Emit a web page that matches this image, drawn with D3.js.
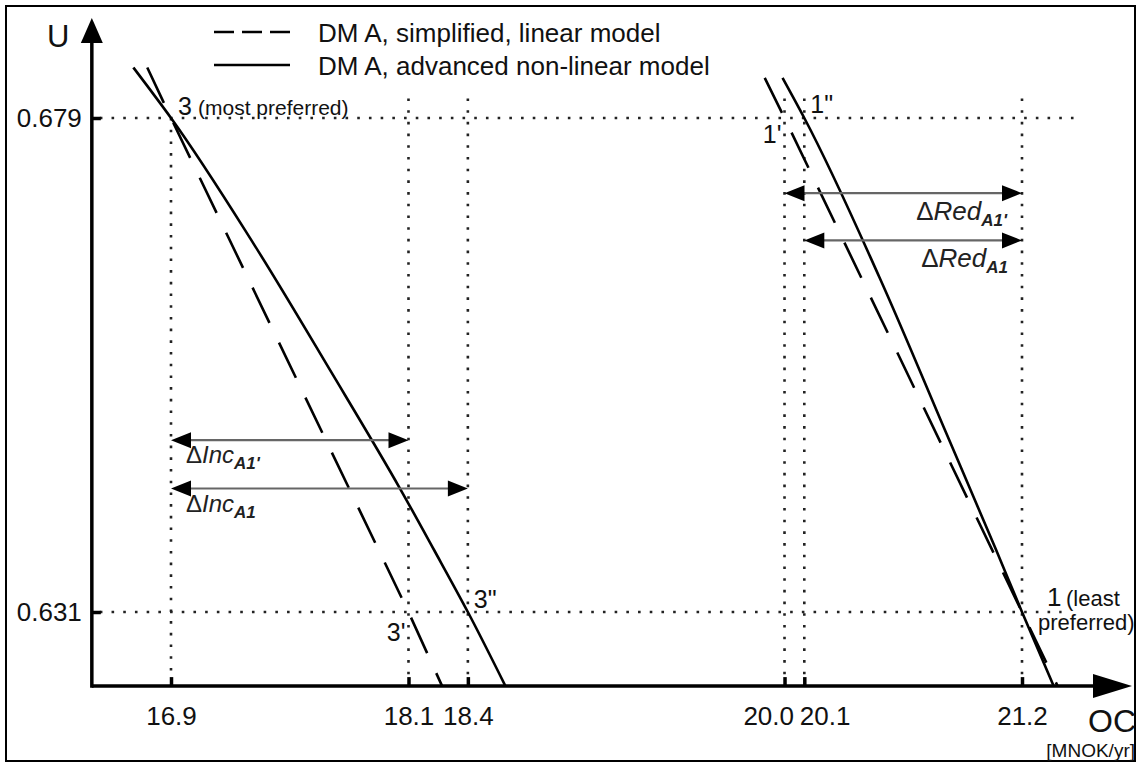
<!DOCTYPE html>
<html>
<head>
<meta charset="utf-8">
<script src="https://cdn.jsdelivr.net/npm/d3@7"></script>
<style>
  html, body { margin: 0; padding: 0; background: #fff; }
  svg { display: block; font-family: "Liberation Sans", Arial, Helvetica, sans-serif; }
</style>
</head>
<body>
<svg id="chart" width="1138" height="763"></svg>
<script>
// ---------------- data ----------------
const xTicks = [16.9, 18.1, 18.4, 20.0, 20.1, 21.2];
const xTickLabels = ["16.9", "18.1", "18.4", "20.0", "20.1", "21.2"];
const yTicks = [0.679, 0.631];
const yTickLabels = ["0.679", "0.631"];

// DM A, simplified, linear model (dashed)
const linearLeftX  = [16.78, 16.90, 18.10, 18.27];
const linearLeftY  = [0.6839, 0.679, 0.631, 0.6238];
const linearRightX = [19.90, 20.00, 21.20, 21.38];
const linearRightY = [0.6829, 0.679, 0.631, 0.6238];

// DM A, advanced non-linear model (solid)
const nonlinLeftX  = [16.71, 16.90, 17.32, 17.71, 18.06, 18.23, 18.40, 18.59];
const nonlinLeftY  = [0.6839, 0.679, 0.6667, 0.6543, 0.6429, 0.6370, 0.631, 0.6238];
const nonlinRightX = [19.99, 20.10, 20.48, 20.81, 21.07, 21.20, 21.36];
const nonlinRightY = [0.6829, 0.679, 0.6635, 0.6487, 0.6370, 0.631, 0.6238];

const legendLabels = ["DM A, simplified, linear model", "DM A, advanced non-linear model"];

// difference arrows: from, to, level
const arrowFrom  = [16.9, 16.9, 20.0, 20.1];
const arrowTo    = [18.1, 18.4, 21.2, 21.2];
const arrowLevel = [0.6477, 0.6430, 0.6717, 0.6671];
const arrowMain  = ["Inc", "Inc", "Red", "Red"];
const arrowSub   = ["A1'", "A1", "A1'", "A1"];

// ---------------- drawing ----------------
const svg = d3.select("#chart");
const W = 1138, H = 763;

svg.append("rect").attr("x", 0).attr("y", 0).attr("width", W).attr("height", H).attr("fill", "#fff");
svg.append("rect").attr("x", 6).attr("y", 6).attr("width", 1129).attr("height", 755)
   .attr("fill", "none").attr("stroke", "#000").attr("stroke-width", 2);

const x = d3.scaleLinear().domain([16.9, 21.2]).range([171, 1022]);
const y = d3.scaleLinear().domain([0.631, 0.679]).range([612, 118]);

const xOrigin = 16.5, yOrigin = 0.6238;
const x0 = x(xOrigin), y0 = y(yOrigin);

// dotted guide lines
const dotStyle = sel => sel.attr("stroke", "#222").attr("stroke-width", 2.6)
  .attr("stroke-dasharray", "2.6 9.1").attr("fill", "none");

const hGuides = [[0.679, 21.48], [0.631, 21.40]];
hGuides.forEach(([yv, xEnd]) => {
  svg.append("line").attr("x1", x0 + 8).attr("x2", x(xEnd)).attr("y1", y(yv)).attr("y2", y(yv)).call(dotStyle);
});
const vGuideTop = [0.679, 0.6809, 0.6809, 0.6809, 0.6809, 0.6809];
xTicks.forEach((xv, i) => {
  svg.append("line").attr("x1", x(xv)).attr("x2", x(xv)).attr("y1", y(vGuideTop[i])).attr("y2", y0 - 9).call(dotStyle);
});

// curves
const toPts = (xs, ys) => xs.map((v, i) => [v, ys[i]]);
const lineLin = d3.line().x(d => x(d[0])).y(d => y(d[1]));
const lineCurve = d3.line().x(d => x(d[0])).y(d => y(d[1])).curve(d3.curveMonotoneY);

[toPts(linearLeftX, linearLeftY), toPts(linearRightX, linearRightY)].forEach(p => {
  svg.append("path").attr("d", lineLin(p)).attr("fill", "none").attr("stroke", "#000")
     .attr("stroke-width", 2.6).attr("stroke-dasharray", "39 22");
});
[toPts(nonlinLeftX, nonlinLeftY), toPts(nonlinRightX, nonlinRightY)].forEach(p => {
  svg.append("path").attr("d", lineCurve(p)).attr("fill", "none").attr("stroke", "#000")
     .attr("stroke-width", 2.6);
});

// axes
const gx = svg.append("g").attr("transform", `translate(0,${y0})`)
  .call(d3.axisBottom(x).tickValues(xTicks).tickFormat((d, i) => xTickLabels[i]).tickSizeInner(-9).tickSizeOuter(0).tickPadding(20));
gx.select(".domain").remove();
gx.selectAll(".tick line").attr("stroke", "#000").attr("stroke-width", 3.5);
gx.selectAll(".tick text").attr("font-size", 26).attr("fill", "#111").attr("font-family", "Liberation Sans, Arial, sans-serif")
  .attr("text-anchor", (d, i) => xTickLabels[i] === "20.0" ? "end" : (xTickLabels[i] === "20.1" ? "start" : "middle"))
  .attr("x", (d, i) => xTickLabels[i] === "20.0" ? 9 : (xTickLabels[i] === "20.1" ? -5 : 0));

const gy = svg.append("g").attr("transform", `translate(${x0},0)`)
  .call(d3.axisLeft(y).tickValues(yTicks).tickFormat((d, i) => yTickLabels[i]).tickSizeInner(-9).tickSizeOuter(0).tickPadding(10));
gy.select(".domain").remove();
gy.selectAll(".tick line").attr("stroke", "#000").attr("stroke-width", 3.5);
gy.selectAll(".tick text").attr("font-size", 26).attr("fill", "#111").attr("font-family", "Liberation Sans, Arial, sans-serif");

// axis lines with arrow heads
svg.append("line").attr("x1", x0).attr("x2", 1096).attr("y1", y0).attr("y2", y0).attr("stroke", "#000").attr("stroke-width", 3.5);
svg.append("path").attr("d", `M1093,${y0 - 12}L1132,${y0}L1093,${y0 + 12}Z`).attr("fill", "#000");
svg.append("line").attr("x1", x0).attr("x2", x0).attr("y1", y0 + 1.75).attr("y2", 40).attr("stroke", "#000").attr("stroke-width", 3.5);
svg.append("path").attr("d", `M${x0 - 11},43L${x0},18L${x0 + 11},43Z`).attr("fill", "#000");

svg.append("text").attr("x", 47).attr("y", 47).attr("font-size", 31).attr("fill", "#111").text("U");
svg.append("text").attr("x", 1088).attr("y", 732).attr("font-size", 32).attr("fill", "#111").text("OC");
svg.append("text").attr("x", 1135).attr("y", 757).attr("text-anchor", "end").attr("font-size", 19).attr("fill", "#111").text("[MNOK/yr]");

// legend
svg.append("line").attr("x1", 214).attr("x2", 290).attr("y1", 32).attr("y2", 32).attr("stroke", "#000").attr("stroke-width", 2.6).attr("stroke-dasharray", "20 8");
svg.append("line").attr("x1", 214).attr("x2", 290).attr("y1", 65).attr("y2", 65).attr("stroke", "#000").attr("stroke-width", 2.6);
legendLabels.forEach((t, i) => {
  svg.append("text").attr("x", 318).attr("y", 42 + i * 33).attr("font-size", 26).attr("fill", "#111").text(t);
});

// arrows
function arrowHead(tipX, yy, dir) {
  svg.append("path").attr("d", `M${tipX},${yy}L${tipX - dir * 20},${yy - 8}L${tipX - dir * 20},${yy + 8}Z`).attr("fill", "#000");
}
arrowFrom.forEach((a, i) => {
  const yy = y(arrowLevel[i]);
  svg.append("line").attr("x1", x(a) + 6).attr("x2", x(arrowTo[i]) - 6).attr("y1", yy).attr("y2", yy)
     .attr("stroke", "#666").attr("stroke-width", 2.2);
  arrowHead(x(a), yy, -1);
  arrowHead(x(arrowTo[i]), yy, 1);
  const isRed = arrowMain[i] === "Red";
  const t = svg.append("text")
    .attr("x", x(a) + 15)
    .attr("y", yy + (isRed ? 27 : 23))
    .attr("font-size", isRed ? 26 : 24).attr("fill", "#222");
  t.append("tspan").text("\u0394");
  t.append("tspan").attr("font-style", "italic").text(arrowMain[i]);
  t.append("tspan").attr("font-style", "italic").attr("font-weight", "bold").attr("font-size", 17).attr("dy", 6).text(arrowSub[i]);
  if (isRed) {
    const bb = t.node().getBBox();
    t.attr("x", x(arrowTo[i]) - 14 - bb.width);
  }
});

// point labels
function label(txt, px, py, size, anchor) {
  svg.append("text").attr("x", px).attr("y", py).attr("font-size", size).attr("fill", "#111")
     .attr("text-anchor", anchor || "start").text(txt);
}
label("3", x(16.9) + 7, y(0.679) - 3, 25);
label("(most preferred)", x(16.9) + 27, y(0.679) - 3, 21);
label("1\"", x(20.1) + 6, y(0.679) - 5, 25);
label("1'", x(20.0) - 3, y(0.679) + 25, 25, "end");
label("3'", x(18.1) - 3, y(0.631) + 29, 25, "end");
label("3\"", x(18.4) + 6, y(0.631) - 4, 25);
label("1", x(21.2) + 25, y(0.631) - 6, 26);
label("(least", x(21.2) + 44, y(0.631) - 6, 22);
label("preferred)", x(21.2) + 16, y(0.631) + 18, 22);
</script>
</body>
</html>
